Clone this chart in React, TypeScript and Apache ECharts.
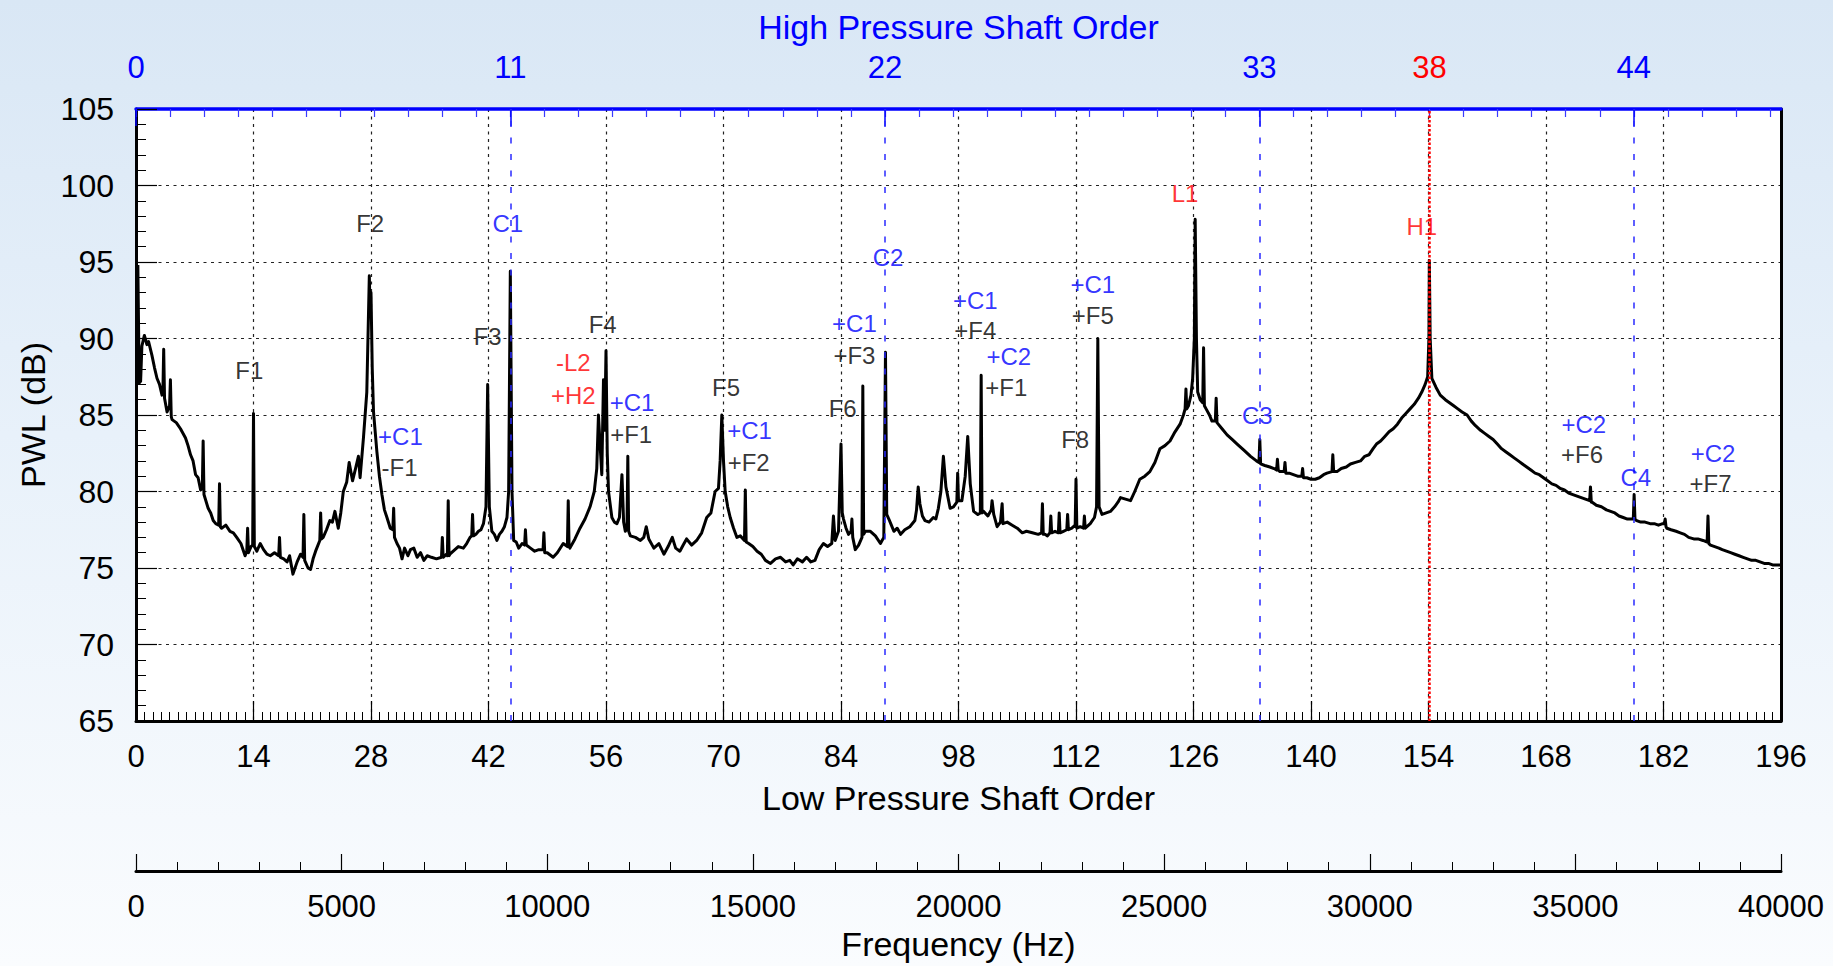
import React, { useEffect, useRef } from "react";
import * as echarts from "echarts";

// ---------- axis definitions ----------
const LP_MAX = 196;
const LP_STEP = 14;
const DB_MIN = 65;
const DB_MAX = 105;
const DB_STEP = 5;
const LP_PER_HP = 4.056; // low-pressure orders per high-pressure order
const HP_LABELS = [0, 11, 22, 33, 38, 44];
const HP_MAJOR_TICKS = [0, 11, 22, 33, 44];
const HP_HIGHLIGHT = 38;
const FREQ_MAX = 40000;
const FREQ_STEP = 5000;

// HP orders of the blue dashed compressor lines (C1..C4) and the red H1 line
const COMPRESSOR_ORDERS = [11, 22, 33, 44];
const HP_SHAFT_ORDERS = [38];

// ---------- spectrum [LP order, PWL dB] ----------
const SPECTRUM: [number, number][] = [
  [0.22, 94.8], [0.3, 91.0], [0.38, 87.1], [0.55, 87.2], [0.7, 89.5], [1.0, 90.2], [1.3, 89.6], [1.5, 89.8],
  [1.9, 88.9], [2.2, 88.1], [2.5, 87.4], [2.8, 87.0], [3.1, 86.3], [3.2, 86.4], [3.3, 89.3], [3.4, 86.1],
  [3.7, 85.2], [4.0, 85.6], [4.1, 87.3], [4.2, 84.9], [4.3, 84.7], [4.8, 84.5], [5.3, 84.1], [5.9, 83.5],
  [6.2, 83.0], [6.5, 82.4], [6.8, 82.0], [7.1, 81.1], [7.4, 80.9], [7.7, 80.1], [7.9, 80.2], [8.0, 83.3],
  [8.1, 79.8], [8.6, 78.9], [8.9, 78.6], [9.2, 78.1], [9.5, 77.9], [9.85, 77.8], [9.95, 80.5], [10.05, 77.7],
  [10.2, 77.6], [10.7, 77.8], [11.2, 77.4], [11.6, 77.3], [12.0, 77.0], [12.5, 76.6], [13.0, 75.8], [13.2, 76.1],
  [13.3, 77.6], [13.4, 76.0], [13.7, 76.4], [13.9, 76.5], [14.0, 85.1], [14.1, 76.4], [14.4, 76.1], [14.8, 76.6],
  [15.2, 76.2], [15.6, 75.9], [16.0, 75.8], [16.5, 76.0], [17.0, 75.8], [17.1, 77.0], [17.2, 75.7], [17.6, 75.6],
  [18.0, 75.4], [18.3, 75.8], [18.7, 74.6], [19.2, 75.4], [19.6, 75.9], [19.9, 75.7], [20.0, 78.5], [20.1, 75.5],
  [20.5, 75.0], [20.8, 74.9], [21.1, 75.6], [21.4, 76.1], [21.9, 76.8], [22.0, 78.6], [22.1, 76.9], [22.3, 77.0],
  [22.7, 77.5], [23.1, 78.1], [23.4, 78.0], [23.7, 78.7], [24.1, 77.6], [24.4, 78.6], [24.7, 80.0], [25.1, 80.6],
  [25.4, 81.9], [25.8, 80.7], [26.2, 81.6], [26.5, 82.3], [26.7, 80.9], [27.1, 83.5], [27.5, 86.5], [27.8, 94.1],
  [27.9, 91.5], [28.0, 93.0], [28.15, 88.0], [28.3, 85.2], [28.7, 82.6], [29.0, 81.0], [29.3, 79.8], [29.6, 78.8],
  [29.9, 78.3], [30.3, 77.6], [30.6, 77.5], [30.7, 78.9], [30.8, 77.0], [31.1, 76.6], [31.4, 76.3], [31.7, 75.6],
  [32.0, 76.3], [32.4, 75.8], [32.7, 76.2], [33.1, 76.3], [33.5, 75.7], [33.9, 76.0], [34.3, 75.5], [34.7, 75.8],
  [35.2, 75.7], [35.8, 75.6], [36.4, 75.7], [36.5, 77.0], [36.6, 75.7], [37.0, 75.9], [37.1, 75.8], [37.2, 79.4],
  [37.3, 75.8], [37.4, 75.9], [37.8, 76.1], [38.4, 76.4], [39.0, 76.3], [39.4, 76.6], [39.8, 77.0], [40.0, 77.1],
  [40.1, 78.5], [40.2, 77.1], [40.5, 77.2], [40.8, 77.4], [41.1, 77.5], [41.4, 77.9], [41.7, 79.0], [41.9, 87.0],
  [42.1, 79.0], [42.4, 77.4], [42.7, 77.2], [43.0, 76.8], [43.3, 77.2], [43.6, 77.4], [43.9, 77.7], [44.2, 78.3],
  [44.4, 80.0], [44.6, 94.4], [44.8, 80.0], [45.0, 76.8], [45.3, 76.7], [45.6, 76.3], [46.0, 76.6], [46.3, 76.5],
  [46.4, 77.5], [46.5, 76.5], [47.0, 76.3], [47.5, 76.1], [48.0, 76.2], [48.5, 76.2], [48.6, 77.3], [48.7, 76.0],
  [49.0, 76.0], [49.7, 75.7], [50.2, 76.0], [50.9, 76.6], [51.4, 76.4], [51.5, 79.4], [51.6, 76.4], [51.7, 76.3],
  [52.3, 76.9], [52.9, 77.6], [53.5, 78.2], [54.1, 79.0], [54.6, 80.0], [54.9, 81.5], [55.1, 85.0], [55.3, 83.0],
  [55.5, 81.1], [55.7, 87.3], [55.85, 84.0], [56.0, 89.2], [56.15, 82.5], [56.3, 80.0], [56.7, 78.3], [57.0, 78.0],
  [57.3, 77.9], [57.6, 78.3], [57.9, 81.1], [58.1, 78.0], [58.3, 77.4], [58.5, 77.6], [58.6, 82.3], [58.7, 77.4],
  [58.9, 77.1], [59.5, 77.0], [60.1, 76.8], [60.5, 77.0], [60.8, 77.7], [61.1, 76.9], [61.7, 76.3], [62.3, 76.6],
  [62.9, 75.9], [63.4, 76.4], [63.9, 77.0], [64.3, 76.3], [64.8, 76.1], [65.2, 76.5], [65.6, 76.9], [66.2, 76.5],
  [66.8, 76.8], [67.4, 77.3], [68.0, 78.3], [68.5, 78.6], [69.0, 80.0], [69.4, 80.2], [69.6, 82.0], [69.8, 85.0],
  [70.0, 82.0], [70.2, 80.0], [70.5, 79.0], [70.8, 78.3], [71.2, 77.6], [71.6, 77.0], [72.0, 77.1], [72.5, 76.8],
  [72.6, 80.1], [72.7, 76.7], [73.0, 76.6], [73.5, 76.4], [74.0, 76.1], [74.5, 75.9], [75.0, 75.5], [75.6, 75.3],
  [76.2, 75.6], [76.8, 75.7], [77.4, 75.4], [77.9, 75.5], [78.3, 75.2], [78.8, 75.6], [79.4, 75.4], [79.9, 75.7],
  [80.4, 75.4], [80.9, 75.5], [81.4, 76.2], [81.9, 76.6], [82.4, 76.4], [82.9, 76.6], [83.1, 78.4], [83.3, 76.8],
  [83.7, 77.4], [84.0, 83.1], [84.15, 78.6], [84.3, 78.2], [84.6, 77.6], [84.9, 77.2], [85.2, 77.4], [85.3, 78.2],
  [85.4, 77.0], [85.7, 76.2], [86.1, 76.5], [86.5, 77.0], [86.6, 86.9], [86.7, 77.2], [86.9, 77.4], [87.5, 77.4],
  [88.1, 77.1], [88.7, 76.6], [89.1, 77.0], [89.3, 89.1], [89.45, 78.5], [89.7, 78.2], [90.0, 77.8], [90.3, 77.4],
  [90.7, 77.6], [91.1, 77.2], [91.6, 77.5], [92.2, 77.7], [92.8, 78.1], [93.0, 78.8], [93.2, 80.3], [93.4, 79.2],
  [93.7, 78.4], [94.0, 78.1], [94.5, 78.0], [95.0, 78.3], [95.3, 78.2], [95.6, 78.9], [95.9, 80.0], [96.2, 82.3],
  [96.5, 80.3], [97.0, 78.9], [97.4, 79.0], [97.8, 79.3], [97.9, 81.2], [98.0, 79.4], [98.4, 79.4], [98.8, 81.0],
  [99.1, 83.6], [99.4, 80.5], [99.8, 78.7], [100.3, 78.5], [100.6, 78.6], [100.7, 87.6], [100.8, 78.6], [101.0, 78.7],
  [101.5, 78.4], [101.9, 78.8], [102.0, 79.4], [102.2, 78.5], [102.6, 77.7], [103.0, 78.0], [103.2, 79.2], [103.3, 77.9],
  [103.8, 78.0], [104.4, 77.8], [105.0, 77.6], [105.6, 77.3], [106.1, 77.4], [106.8, 77.3], [107.5, 77.2], [107.9, 77.3],
  [108.0, 79.2], [108.1, 77.2], [108.3, 77.2], [108.6, 77.1], [108.9, 77.3], [109.0, 78.4], [109.1, 77.3], [109.5, 77.4],
  [109.9, 77.3], [110.0, 78.6], [110.1, 77.3], [110.5, 77.4], [110.9, 77.5], [111.0, 78.5], [111.1, 77.5], [111.5, 77.6],
  [111.9, 77.8], [112.0, 80.8], [112.1, 77.6], [112.5, 77.7], [112.9, 77.6], [113.0, 78.4], [113.1, 77.6], [113.7, 77.9],
  [114.2, 78.3], [114.45, 79.0], [114.6, 90.0], [114.75, 79.0], [115.1, 78.5], [115.6, 78.6], [116.1, 78.7], [116.6, 79.0],
  [117.0, 79.3], [117.3, 79.6], [117.9, 79.5], [118.5, 79.4], [119.0, 80.0], [119.6, 80.8], [120.2, 81.0], [120.8, 81.3],
  [121.4, 81.9], [122.0, 82.8], [122.6, 83.0], [123.2, 83.3], [123.8, 83.9], [124.4, 84.4], [124.8, 85.0], [125.0, 85.4],
  [125.1, 86.7], [125.2, 85.4], [125.4, 85.6], [125.7, 86.3], [125.9, 87.4], [126.1, 90.0], [126.2, 97.8], [126.35, 90.0],
  [126.5, 86.5], [126.8, 86.0], [127.1, 85.8], [127.2, 89.4], [127.3, 85.6], [127.5, 85.4], [127.9, 85.0], [128.2, 84.6],
  [128.6, 84.6], [128.7, 86.1], [128.8, 84.5], [129.4, 84.1], [130.0, 83.7], [130.6, 83.4], [131.2, 83.1], [132.0, 82.7],
  [132.8, 82.3], [133.5, 82.0], [133.8, 81.9], [133.9, 83.4], [134.0, 81.8], [134.5, 81.7], [135.1, 81.6], [135.6, 81.5],
  [135.9, 81.4], [136.0, 82.1], [136.1, 81.4], [136.3, 81.3], [136.8, 81.3], [136.9, 81.9], [137.0, 81.2], [137.4, 81.2],
  [137.9, 81.1], [138.4, 81.0], [138.9, 81.0], [139.0, 81.5], [139.1, 80.9], [139.5, 80.9], [140.0, 80.8], [140.5, 80.8],
  [141.0, 80.9], [141.5, 81.1], [141.9, 81.2], [142.5, 81.3], [142.6, 82.4], [142.7, 81.3], [143.1, 81.3], [143.6, 81.5],
  [144.2, 81.6], [144.7, 81.8], [145.3, 81.9], [145.9, 82.0], [146.4, 82.3], [146.9, 82.4], [147.4, 82.8], [147.8, 83.1],
  [148.3, 83.3], [148.8, 83.6], [149.3, 83.9], [149.8, 84.1], [150.3, 84.4], [150.8, 84.8], [151.3, 85.1], [151.8, 85.4],
  [152.3, 85.7], [152.8, 86.1], [153.2, 86.5], [153.6, 87.0], [153.9, 87.5], [154.05, 90.0], [154.1, 95.1], [154.2, 90.0],
  [154.4, 87.4], [154.9, 86.8], [155.4, 86.3], [156.0, 86.0], [156.5, 85.8], [157.0, 85.6], [157.5, 85.4], [158.0, 85.2],
  [158.6, 85.0], [159.1, 84.6], [159.6, 84.3], [160.2, 84.0], [160.7, 83.8], [161.2, 83.6], [161.7, 83.4], [162.2, 83.1],
  [162.7, 82.8], [163.2, 82.6], [163.7, 82.4], [164.2, 82.2], [164.7, 82.0], [165.2, 81.8], [165.7, 81.6], [166.2, 81.4],
  [166.7, 81.2], [167.2, 81.1], [167.7, 80.9], [168.2, 80.7], [168.7, 80.5], [169.2, 80.4], [169.7, 80.2], [170.2, 80.1],
  [170.7, 79.9], [171.2, 79.8], [171.7, 79.7], [172.2, 79.6], [172.7, 79.5], [173.2, 79.4], [173.3, 80.3], [173.4, 79.3],
  [173.5, 79.3], [174.0, 79.1], [174.6, 79.0], [175.2, 78.8], [175.7, 78.7], [176.2, 78.6], [176.7, 78.4], [177.2, 78.3],
  [177.7, 78.2], [178.2, 78.2], [178.4, 78.2], [178.5, 79.8], [178.6, 78.2], [178.8, 78.1], [179.3, 78.0], [179.8, 78.0],
  [180.4, 77.9], [180.9, 77.9], [181.4, 77.8], [181.9, 77.9], [182.1, 77.9], [182.2, 78.2], [182.3, 77.7], [182.4, 77.6],
  [182.9, 77.5], [183.5, 77.4], [184.0, 77.3], [184.5, 77.2], [185.0, 77.0], [185.6, 76.9], [186.1, 76.9], [186.7, 76.8],
  [187.2, 76.7], [187.3, 78.4], [187.4, 76.6], [187.6, 76.5], [188.1, 76.4], [188.6, 76.3], [189.0, 76.2], [189.5, 76.1],
  [190.0, 76.0], [190.5, 75.9], [191.0, 75.8], [191.5, 75.7], [192.0, 75.6], [192.5, 75.5], [193.0, 75.5], [193.5, 75.4],
  [194.0, 75.3], [194.5, 75.3], [195.0, 75.2], [195.5, 75.2], [196.0, 75.2],
];

// ---------- peak annotations [text, LP order, dB, kind] ----------
// kind: "f" = fan (black), "c" = compressor (blue), "s" = shaft (red)
const ANNOTATIONS: [string, number, number, string][] = [
  ["F1", 13.5, 87.9, "f"],
  ["F2", 27.9, 97.5, "f"],
  ["+C1", 31.5, 83.6, "c"],
  ["-F1", 31.4, 81.6, "f"],
  ["F3", 41.9, 90.1, "f"],
  ["C1", 44.3, 97.5, "c"],
  ["-L2", 52.1, 88.4, "s"],
  ["+H2", 52.1, 86.3, "s"],
  ["F4", 55.6, 90.9, "f"],
  ["+C1", 59.1, 85.8, "c"],
  ["+F1", 59.0, 83.7, "f"],
  ["F5", 70.3, 86.8, "f"],
  ["+C1", 73.1, 84.0, "c"],
  ["+F2", 73.0, 81.9, "f"],
  ["F6", 84.2, 85.4, "f"],
  ["+C1", 85.6, 91.0, "c"],
  ["+F3", 85.6, 88.9, "f"],
  ["C2", 89.6, 95.3, "c"],
  ["+C1", 100.0, 92.5, "c"],
  ["+F4", 100.0, 90.5, "f"],
  ["+C2", 104.0, 88.8, "c"],
  ["+F1", 103.7, 86.8, "f"],
  ["F8", 111.9, 83.4, "f"],
  ["+C1", 114.0, 93.5, "c"],
  ["+F5", 114.0, 91.5, "f"],
  ["L1", 125.0, 99.5, "s"],
  ["C3", 133.6, 85.0, "c"],
  ["H1", 153.2, 97.3, "s"],
  ["+C2", 172.5, 84.4, "c"],
  ["+F6", 172.3, 82.4, "f"],
  ["C4", 178.7, 80.9, "c"],
  ["+C2", 187.9, 82.5, "c"],
  ["+F7", 187.6, 80.5, "f"],
];

const FONT = "'Liberation Sans', Arial, Helvetica, sans-serif";
const KIND_COLOR: Record<string, string> = { f: "#000000", c: "#0000ff", s: "#ff0000" };
const GRID_LINE = { color: "#222", type: [3, 4.5] as number[], width: 1.2 };

export default function App() {
  const ref = useRef<HTMLDivElement>(null);

  useEffect(() => {
    if (!ref.current) return;
    const chart = echarts.init(ref.current, undefined, { renderer: "svg" });
    const hpMax = LP_MAX / LP_PER_HP;
    const hpMinorTicks: number[] = [];
    for (let i = 0; i <= Math.floor(hpMax); i++) hpMinorTicks.push(i);

    const option: any = {
      animation: false,
      textStyle: { fontFamily: FONT },
      grid: {
        left: 136,
        right: 52,
        top: 109,
        bottom: 242,
        show: true,
        backgroundColor: "#ffffff",
        borderWidth: 0,
      },
      xAxis: [
        {
          type: "value",
          position: "bottom",
          min: 0,
          max: LP_MAX,
          interval: LP_STEP,
          name: "Low Pressure Shaft Order",
          nameLocation: "middle",
          nameGap: 60,
          nameTextStyle: { fontSize: 34, color: "#000", fontFamily: FONT },
          axisLine: { show: true, onZero: false, lineStyle: { color: "#000", width: 3 } },
          axisTick: { show: true, inside: true, length: 20, lineStyle: { color: "#000", width: 1.2 } },
          minorTick: { show: true, splitNumber: LP_STEP, length: 9, lineStyle: { color: "#000", width: 1 } },
          axisLabel: { fontSize: 31, color: "#000", margin: 20, fontFamily: FONT },
          splitLine: { show: true, lineStyle: GRID_LINE },
        },
        {
          type: "value",
          position: "top",
          min: 0,
          max: hpMax,
          name: "High Pressure Shaft Order",
          nameLocation: "middle",
          nameGap: 65,
          nameTextStyle: { fontSize: 34, color: "#0000ff", fontFamily: FONT },
          axisLine: { show: true, onZero: false, lineStyle: { color: "#0000ff", width: 3.5 } },
          axisTick: {
            show: true,
            inside: true,
            length: 8,
            customValues: hpMinorTicks,
            lineStyle: { color: "#3a3aff", width: 1.2 },
          },
          axisLabel: {
            show: true,
            customValues: HP_LABELS,
            fontSize: 31,
            margin: 26,
            fontFamily: FONT,
            color: (v: any) => (Number(v) === HP_HIGHLIGHT ? "#ff0000" : "#0000ff"),
          },
          splitLine: { show: false },
        },
        {
          type: "value",
          position: "top",
          min: 0,
          max: hpMax,
          axisLine: { show: false, onZero: false },
          axisTick: {
            show: true,
            inside: true,
            length: 17,
            customValues: HP_MAJOR_TICKS,
            lineStyle: { color: "#0000ff", width: 1.5 },
          },
          axisLabel: { show: false },
          splitLine: { show: false },
        },
        {
          type: "value",
          position: "bottom",
          offset: 150,
          min: 0,
          max: FREQ_MAX,
          interval: FREQ_STEP,
          name: "Frequency (Hz)",
          nameLocation: "middle",
          nameGap: 56,
          nameTextStyle: { fontSize: 34, color: "#000", fontFamily: FONT },
          axisLine: { show: true, onZero: false, lineStyle: { color: "#000", width: 3 } },
          axisTick: { show: true, inside: true, length: 17, lineStyle: { color: "#000", width: 1.2 } },
          minorTick: { show: true, splitNumber: 5, length: 9, lineStyle: { color: "#000", width: 1 } },
          axisLabel: {
            fontSize: 31,
            color: "#000",
            margin: 20,
            fontFamily: FONT,
            formatter: (v: number) => String(v),
          },
          splitLine: { show: false },
        },
      ],
      yAxis: [
        {
          type: "value",
          position: "left",
          min: DB_MIN,
          max: DB_MAX,
          interval: DB_STEP,
          name: "PWL (dB)",
          nameLocation: "middle",
          nameGap: 84,
          nameRotate: 90,
          nameTextStyle: { fontSize: 34, color: "#000", fontFamily: FONT },
          axisLine: { show: true, onZero: false, lineStyle: { color: "#000", width: 3 } },
          axisTick: { show: true, inside: true, length: 21, lineStyle: { color: "#000", width: 1.2 } },
          minorTick: { show: true, splitNumber: DB_STEP, length: 10, lineStyle: { color: "#000", width: 1 } },
          axisLabel: { fontSize: 32, color: "#000", margin: 22, fontFamily: FONT },
          splitLine: { show: true, lineStyle: GRID_LINE },
        },
        {
          type: "value",
          position: "right",
          min: DB_MIN,
          max: DB_MAX,
          axisLine: { show: true, onZero: false, lineStyle: { color: "#000", width: 3 } },
          axisTick: { show: false },
          axisLabel: { show: false },
          splitLine: { show: false },
        },
      ],
      series: [
        {
          type: "line",
          xAxisIndex: 1,
          yAxisIndex: 0,
          data: [],
          z: 2,
          silent: true,
          markLine: {
            silent: true,
            symbol: "none",
            label: { show: false },
            data: [
              ...COMPRESSOR_ORDERS.map((v) => ({
                xAxis: v,
                lineStyle: { color: "#2a2aff", type: [6, 10.5], width: 1.5 },
              })),
              ...HP_SHAFT_ORDERS.map((v) => ({
                xAxis: v,
                lineStyle: { color: "#ff0000", type: [2.5, 2], width: 2.5 },
              })),
            ],
          },
        },
        {
          type: "line",
          xAxisIndex: 0,
          yAxisIndex: 0,
          data: SPECTRUM,
          symbol: "none",
          z: 4,
          silent: true,
          lineStyle: { color: "#000", width: 3, join: "round" },
        },
        {
          type: "scatter",
          xAxisIndex: 0,
          yAxisIndex: 0,
          symbolSize: 0,
          z: 5,
          silent: true,
          data: ANNOTATIONS.map(([text, lp, db, kind]) => ({
            name: text,
            value: [lp, db],
            label: { color: KIND_COLOR[kind] },
          })),
          label: {
            show: true,
            position: "inside",
            fontSize: 24,
            fontFamily: FONT,
            formatter: (p: any) => p.name,
          },
        },
      ],
    };
    chart.setOption(option);
    return () => chart.dispose();
  }, []);

  return (
    <div
      style={{
        position: "fixed",
        left: 0,
        top: 0,
        width: 1833,
        height: 966,
        background: "linear-gradient(to bottom, #d9e7f5 0%, #e8f1fa 45%, #fafcfe 100%)",
      }}
    >
      <div ref={ref} style={{ width: 1833, height: 966 }} />
    </div>
  );
}
